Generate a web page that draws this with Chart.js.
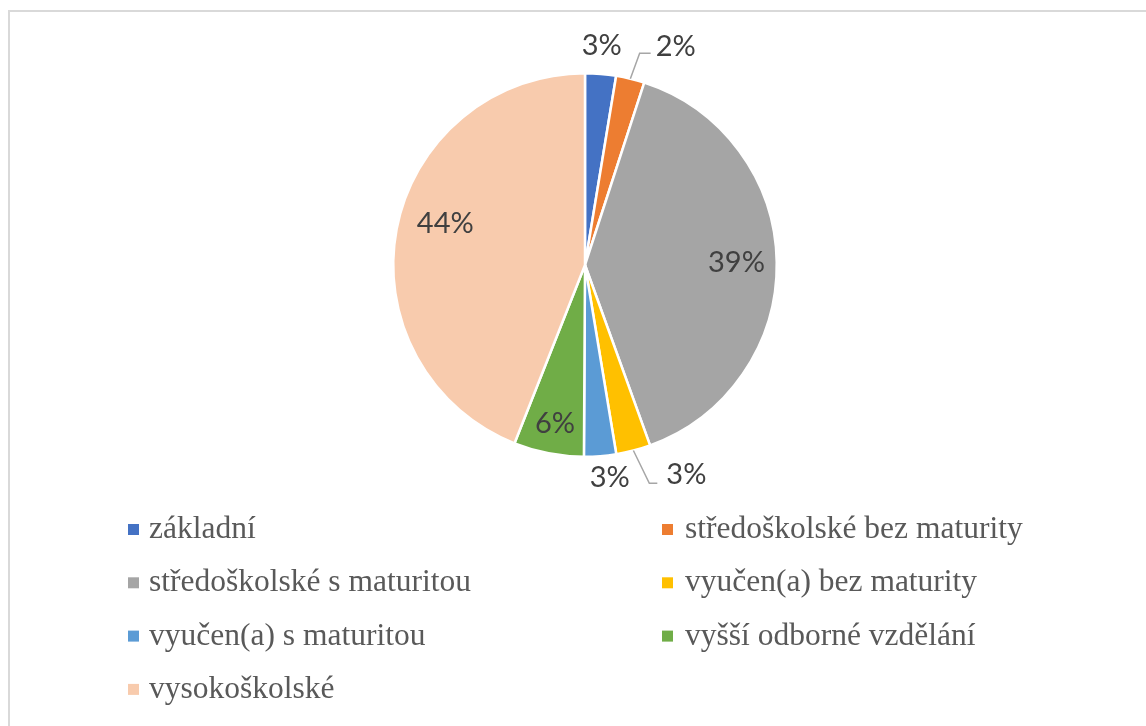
<!DOCTYPE html>
<html><head><meta charset="utf-8">
<script src="https://cdn.jsdelivr.net/npm/chart.js@4/dist/chart.umd.min.js"></script>
<style>html,body{margin:0;padding:0;background:#fff;}#wrap{position:relative;width:1146px;height:726px;}</style>
</head><body><div id="wrap"><canvas id="c" width="1146" height="726"></canvas></div>
<script>
const categories = ['základní','středoškolské bez maturity','středoškolské s maturitou','vyučen(a) bez maturity','vyučen(a) s maturitou','vyšší odborné vzdělání','vysokoškolské'];
const values = [2.6, 2.4, 39.49, 2.9, 2.7, 5.9, 44.01];
const colors = ['#4472C4','#ED7D31','#A5A5A5','#FFC000','#5B9BD5','#70AD47','#F8CBAD'];

// label placement styling (radius factor of outer radius, angle shift in degrees)
const labelPlacement = [
  {mode:'out', r:1.146, shift:-0.3},
  {mode:'leader', r:1.14, shift:0.8, lineLen:11, tx:16, ty:-7},
  {mode:'in', r:0.79, shift:0},
  {mode:'leader', r:1.187, shift:-1.8, lineLen:8, tx:17, ty:-9},
  {mode:'out', r:1.116, shift:-2.1},
  {mode:'in', r:0.84, shift:-0.2},
  {mode:'in', r:0.76, shift:5.7}
];

const total = values.reduce((a,b)=>a+b,0);
const pctText = v => Math.round(v/total*100) + '%';

const frame = {
  id:'frame',
  beforeDraw(chart){
    const ctx = chart.ctx;
    ctx.save();
    ctx.strokeStyle = '#d9d9d9';
    ctx.lineWidth = 2;
    ctx.beginPath();
    ctx.moveTo(9, 726); ctx.lineTo(9, 11); ctx.lineTo(1146, 11);
    ctx.stroke();
    ctx.restore();
  }
};

const dataLabels = {
  id:'dataLabels',
  afterDatasetsDraw(chart){
    const ctx = chart.ctx;
    const meta = chart.getDatasetMeta(0);
    ctx.save();
    ctx.font = '29px Lato, "Open Sans", sans-serif';
    ctx.fillStyle = '#404040';
    meta.data.forEach((arc, i) => {
      const p = arc.getProps(['x','y','startAngle','endAngle','outerRadius'], true);
      const lp = labelPlacement[i];
      const a = (p.startAngle + p.endAngle)/2 + lp.shift*Math.PI/180;
      const txt = pctText(values[i]);
      if (lp.mode === 'leader') {
        const a0 = (p.startAngle + p.endAngle)/2;
        const sx = p.x + p.outerRadius*Math.cos(a0), sy = p.y + p.outerRadius*Math.sin(a0);
        const ex = p.x + p.outerRadius*lp.r*Math.cos(a), ey = p.y + p.outerRadius*lp.r*Math.sin(a);
        ctx.strokeStyle = '#a6a6a6';
        ctx.lineWidth = 1.5;
        ctx.beginPath();
        ctx.moveTo(sx, sy); ctx.lineTo(ex, ey); ctx.lineTo(ex + lp.lineLen, ey);
        ctx.stroke();
        ctx.textAlign = 'left'; ctx.textBaseline = 'middle';
        ctx.fillText(txt, ex + lp.tx, ey + lp.ty);
      } else {
        const x = p.x + p.outerRadius*lp.r*Math.cos(a), y = p.y + p.outerRadius*lp.r*Math.sin(a);
        ctx.textAlign = 'center'; ctx.textBaseline = 'middle';
        ctx.fillText(txt, x, y);
      }
    });
    ctx.restore();
  }
};

const legendPlugin = {
  id:'customLegend',
  afterDraw(chart){
    const ctx = chart.ctx;
    ctx.save();
    ctx.font = '31.5px "Liberation Serif", "Times New Roman", serif';
    ctx.textAlign = 'left'; ctx.textBaseline = 'alphabetic';
    const markX = [128, 662], textX = [149, 685];
    categories.forEach((c, i) => {
      const col = i % 2, row = Math.floor(i/2);
      const base = 538 + row*53.3;
      ctx.fillStyle = colors[i];
      ctx.fillRect(markX[col], base - 14, 11, 11);
      ctx.fillStyle = '#595959';
      ctx.fillText(c, textX[col], base);
    });
    ctx.restore();
  }
};

new Chart(document.getElementById('c'), {
  type:'pie',
  data:{ labels:categories, datasets:[{ data:values, backgroundColor:colors, borderColor:'#ffffff', borderWidth:2.5 }] },
  options:{
    responsive:false, animation:false,
    layout:{ padding:{ left:392, right:368, top:72, bottom:268 } },
    plugins:{ legend:{display:false}, tooltip:{enabled:false} }
  },
  plugins:[frame, dataLabels, legendPlugin]
});
</script></body></html>
